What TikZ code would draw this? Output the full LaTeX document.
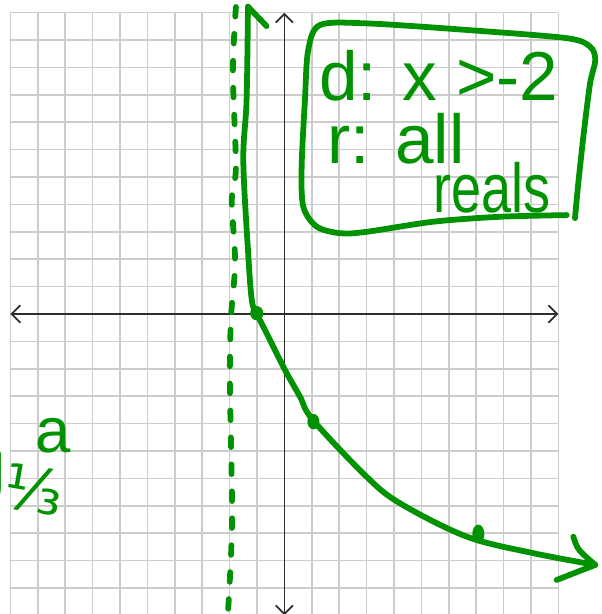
\documentclass[tikz,border=0pt]{standalone}
\usepackage{fontspec}
\setmainfont{Liberation Sans}
\newfontfamily\symfont{DejaVu Sans}
\usetikzlibrary{arrows.meta}
\definecolor{pen}{RGB}{0,146,0}
\definecolor{gridgray}{RGB}{204,204,204}
\definecolor{axisgray}{RGB}{45,45,45}
\tikzset{
  gridline/.style={draw=gridgray, line width=0.8pt},
  axisline/.style={draw=axisgray, line width=0.9pt, {Straight Barb[length=4.5pt,width=9pt]}-{Straight Barb[length=4.5pt,width=9pt]}},
  penline/.style={draw=pen, line width=3pt, line cap=round, line join=round},
  pendash/.style={draw=pen, line width=3pt, line cap=round, dash pattern=on 5pt off 9pt},
  pendot/.style={fill=pen},
  pentext/.style={text=pen, inner sep=0pt, font=\fontsize{36}{40}\selectfont}
}
\begin{document}
\begin{tikzpicture}[x=0.5cm,y=0.5cm]
\useasboundingbox (-10.383,-10.953) rectangle (11.595,11.464);
\clip (-10.383,-10.953) rectangle (11.595,11.464);
% grid
\draw[gridline, step=0.5cm] (-10,-11) grid (10,11);
% axes
\coordinate (xl) at (-10,0);
\coordinate (xr) at (10,0);
\coordinate (yt) at (0,11);
\coordinate (yb) at (0,-11);
\draw[axisline] (xl) -- (xr);
\draw[axisline] (yb) -- (yt);
% dashed asymptote
\draw[pendash] plot[smooth, tension=0.5] coordinates {(-1.77,11.21) (-1.88,8.84) (-1.77,5.37) (-1.92,4.16) (-1.80,1.86) (-1.95,-0.15) (-1.99,-2.52) (-1.91,-7.52) (-2.06,-10.9)};
% curve
\coordinate (ctop) at (-1.33,11.22);
\coordinate (cend) at (11.35,-9.16);
\draw[penline] plot[smooth, tension=0.55] coordinates {(-1.33,11.22) (-1.38,7.81) (-1.50,5.62) (-1.33,2.34) (-1.19,0.51) (-1.0,0.0) (-0.65,-0.70) (0.02,-2.04) (0.57,-3.02) (1.04,-3.87) (3.0,-5.94) (4.22,-6.91) (6.66,-8.13) (9.08,-8.73) (11.35,-9.16)};
\coordinate (tb) at (-0.65,10.51);
\draw[penline] (ctop) -- (tb);
\coordinate (b1) at (10.55,-8.13);
\coordinate (b2) at (9.94,-9.71);
\draw[penline] (b1) .. controls (10.7,-8.6) .. (cend) -- (b2);
% dots
\fill[pendot] (-1.01,0.03) ellipse [x radius=0.24, y radius=0.26];
\fill[pendot] (1.06,-3.93) ellipse [x radius=0.22, y radius=0.28];
\fill[pendot] (7.08,-8.03) ellipse [x radius=0.22, y radius=0.34];
% box
\draw[penline] plot[smooth, tension=0.5] coordinates {(10.31,3.61) (7.87,3.55) (5.44,3.37) (3.0,3.0) (2.03,2.95) (1.18,3.19) (0.69,3.92) (0.63,5.38) (0.75,7.81) (0.87,9.64) (1.30,10.55) (3.0,10.61) (6.66,10.37) (10.31,10.07) (11.16,9.76) (11.35,9.27) (11.16,8.42) (10.93,6.60) (10.73,4.77) (10.61,3.5)};
% box text
\node[pentext, anchor=base west] (dom) at (1.25,7.81) {d: x >-2};
\node[pentext, anchor=base west] (ran) at (1.55,5.51) {r: all};
\node[pentext, anchor=base west, xscale=0.78] (rea) at (5.43,3.69) {reals};
% partial left label
\node[pentext, anchor=base] (lg) at (-10.85,-6.40) {g};
\node[text=pen, inner sep=0pt, font=\symfont\fontsize{32}{36}\selectfont, rotate=-10] (frac) at (-9.15,-6.4) {⅓};
\node[pentext, anchor=base, font=\fontsize{33}{36}\selectfont] (sup) at (-8.45,-5.07) {a};
\end{tikzpicture}
\end{document}
